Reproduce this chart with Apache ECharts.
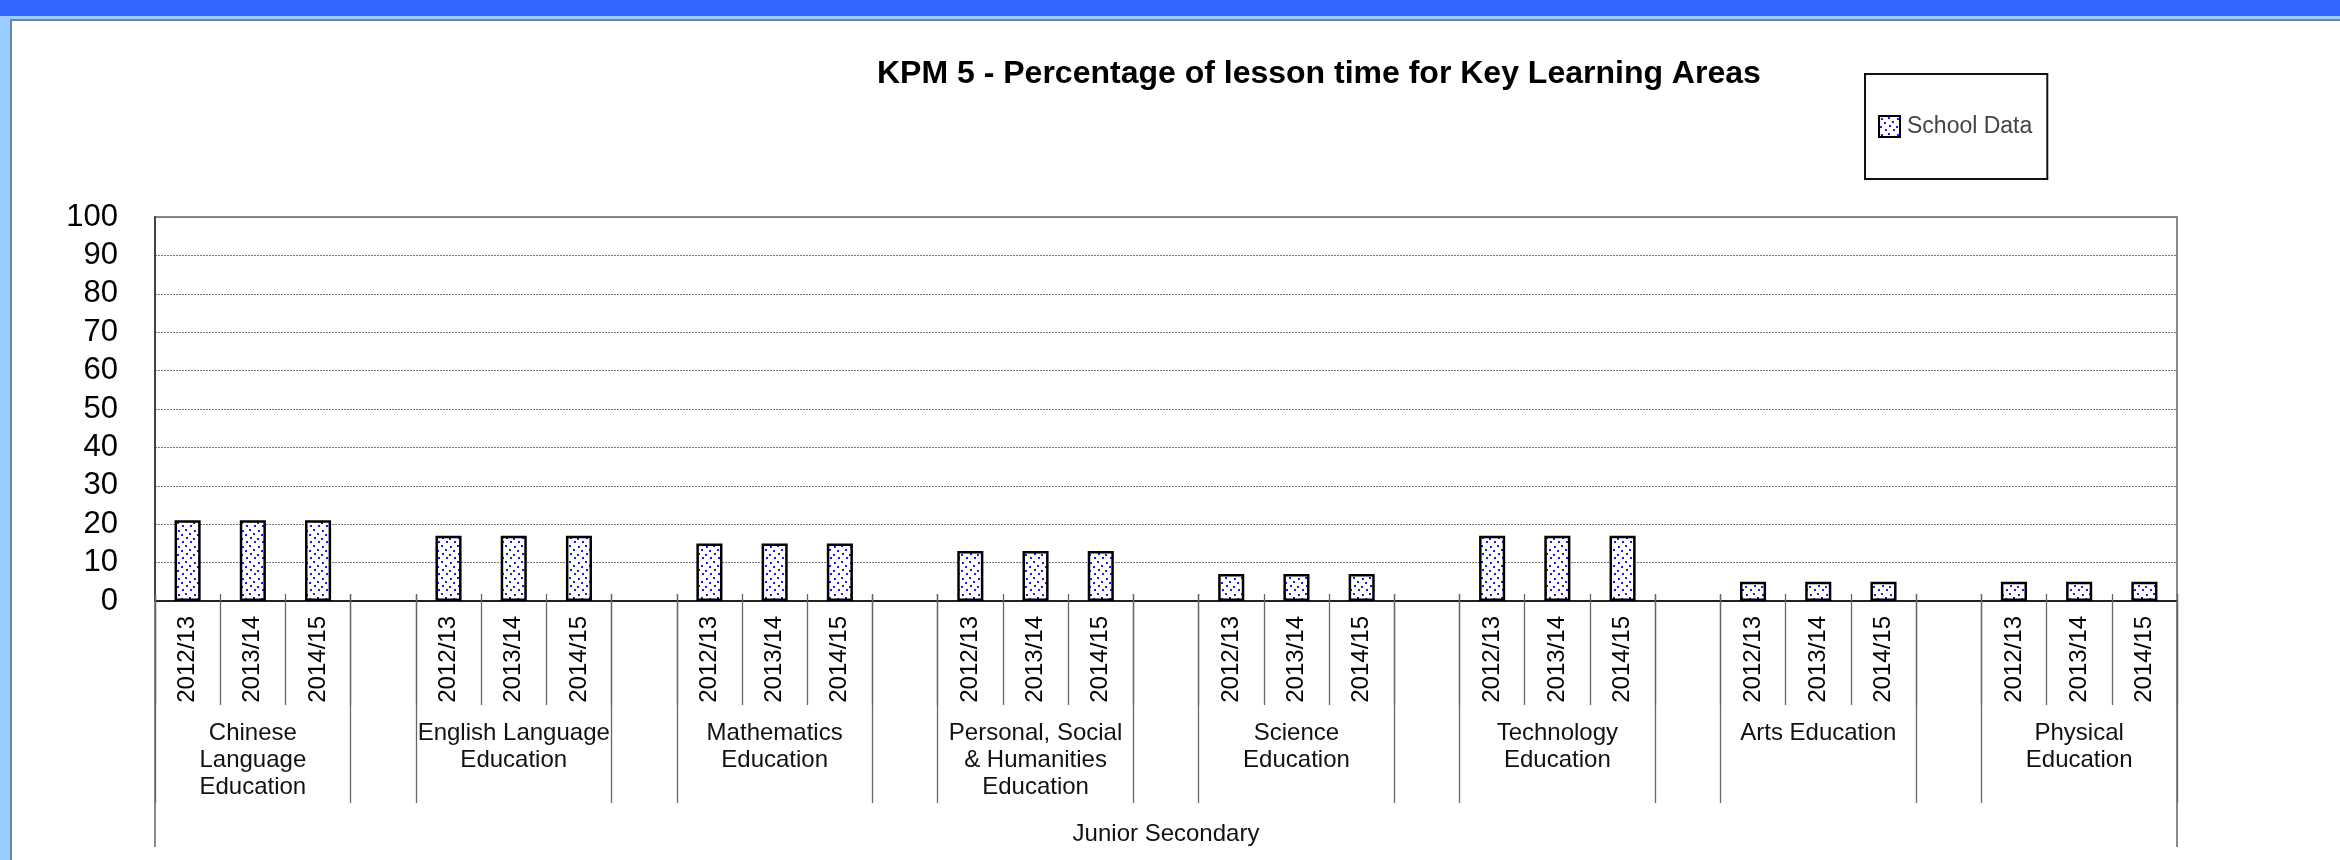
<!DOCTYPE html>
<html>
<head>
<meta charset="utf-8">
<script src="https://cdn.jsdelivr.net/npm/echarts@6/dist/echarts.min.js"></script>
<style>
  html, body { margin: 0; padding: 0; width: 2340px; height: 860px; overflow: hidden; background: #ffffff; }
  .band-blue { position: absolute; left: 0; top: 0; width: 2340px; height: 16px; background: #3366ff; }
  .band-light { position: absolute; left: 0; top: 16px; width: 2340px; height: 3px; background: #99ccff; }
  .strip-left { position: absolute; left: 0; top: 16px; width: 10px; height: 844px; background: #99ccff; }
  .line-top { position: absolute; left: 10px; top: 19px; width: 2330px; height: 2px; background: #6a86a3; }
  .line-left { position: absolute; left: 10px; top: 19px; width: 2px; height: 841px; background: #6a86a3; }
  #chart { position: absolute; left: 0; top: 0; width: 2340px; height: 860px; }
</style>
</head>
<body>
<div class="band-blue"></div>
<div class="band-light"></div>
<div class="strip-left"></div>
<div class="line-top"></div>
<div class="line-left"></div>
<div id="chart"></div>
<script>
// ---------------- data ----------------
const titleText = 'KPM 5 - Percentage of lesson time for Key Learning Areas';
const seriesName = 'School Data';
const levelLabel = 'Junior Secondary';
const years = ['2012/13', '2013/14', '2014/15'];
const groupNames = [
  'Chinese\nLanguage\nEducation',
  'English Language\nEducation',
  'Mathematics\nEducation',
  'Personal, Social\n& Humanities\nEducation',
  'Science\nEducation',
  'Technology\nEducation',
  'Arts Education',
  'Physical\nEducation'
];
const chineseLang = [21, 21, 21];
const englishLang = [17, 17, 17];
const mathematics = [15, 15, 15];
const personalSocial = [13, 13, 13];
const science = [7, 7, 7];
const technology = [17, 17, 17];
const arts = [5, 5, 5];
const physical = [5, 5, 5];
const groupValues = [chineseLang, englishLang, mathematics, personalSocial, science, technology, arts, physical];
const yMin = 0, yMax = 100, yInterval = 10;

// -------- build slot arrays (3 years per group + 1 empty gap slot between groups) --------
const yearSlots = [];
const groupSlots = [];
const valueSlots = [];
groupValues.forEach((vals, g) => {
  years.forEach((y, i) => {
    yearSlots.push(y);
    groupSlots.push(i === 1 ? groupNames[g] : '');
    valueSlots.push(vals[i]);
  });
  if (g < groupValues.length - 1) {
    yearSlots.push('');
    groupSlots.push('');
    valueSlots.push('-');
  }
});

// -------- stipple pattern --------
function makeStipple() {
  const c = document.createElement('canvas');
  c.width = 16; c.height = 16;
  const ctx = c.getContext('2d');
  ctx.fillStyle = '#ffffff';
  ctx.fillRect(0, 0, 16, 16);
  ctx.fillStyle = '#1a1aff';
  const pts = [[2,2],[9,1],[13,5],[5,6],[10,9],[1,10],[6,13],[14,13]];
  pts.forEach(p => ctx.fillRect(p[0], p[1], 2, 2));
  return c;
}
const stipple = { image: makeStipple(), repeat: 'repeat' };

const FONT = 'Liberation Sans, Arial, Helvetica, sans-serif';
const gridBox = { left: 155, right: 163, top: 217, bottom: 259 };
const lineGray = '#666666';

const chart = echarts.init(document.getElementById('chart'), null, { renderer: 'canvas' });
chart.setOption({
  animation: false,
  backgroundColor: 'transparent',
  title: {
    text: titleText,
    left: 872,
    top: 53,
    textStyle: { fontFamily: FONT, fontSize: 32, fontWeight: 'bold', color: '#000' }
  },
  legend: {
    data: [seriesName],
    left: 1865,
    top: 74,
    orient: 'vertical',
    icon: 'rect',
    itemWidth: 21,
    itemHeight: 21,
    itemGap: 0,
    padding: [41, 15, 41, 13],
    borderColor: '#111',
    borderWidth: 2,
    backgroundColor: '#fff',
    textStyle: { fontFamily: FONT, fontSize: 23, color: '#444', padding: [0, 0, 0, 2] }
  },
  grid: Object.assign({ show: true, borderColor: '#8a8a8a', borderWidth: 2, backgroundColor: 'transparent' }, gridBox),
  xAxis: [
    { // main axis with year labels
      type: 'category', position: 'bottom', data: yearSlots,
      axisLine: { show: true, lineStyle: { color: '#222', width: 2 } },
      axisTick: { show: false },
      axisLabel: { interval: 0, rotate: 90, margin: 15, fontFamily: FONT, fontSize: 24, color: '#000' },
      splitLine: { show: false }
    },
    { // short separators (start slightly above the baseline)
      type: 'category', position: 'bottom', data: yearSlots, offset: -7,
      axisLine: { show: false },
      axisTick: { show: true, interval: 0, length: 111, lineStyle: { color: lineGray, width: 1.3 } },
      axisLabel: { show: false }
    },
    { // longer group separators + group names
      type: 'category', position: 'bottom', data: groupSlots, offset: -7,
      axisLine: { show: false },
      axisTick: {
        show: true, length: 209,
        interval: function (i) { return i % 4 === 0 || i % 4 === 3; },
        lineStyle: { color: lineGray, width: 1.3 }
      },
      axisLabel: {
        interval: 0, margin: 126, fontFamily: FONT, fontSize: 24, lineHeight: 27,
        color: '#111', align: 'center'
      }
    },
    { // level label spanning the whole axis
      type: 'category', position: 'bottom', data: [levelLabel],
      axisLine: { show: false },
      axisTick: { show: true, length: 246, lineStyle: { color: lineGray, width: 1.5 } },
      axisLabel: { interval: 0, margin: 220, fontFamily: FONT, fontSize: 24, lineHeight: 27, color: '#111' }
    }
  ],
  yAxis: {
    type: 'value', min: yMin, max: yMax, interval: yInterval,
    axisLine: { show: true, lineStyle: { color: '#444', width: 2 } },
    axisTick: { show: false },
    axisLabel: { margin: 37, fontFamily: FONT, fontSize: 31, color: '#000' },
    splitLine: { show: true, lineStyle: { color: '#7a7a7a', width: 1, type: [2, 1] } }
  },
  series: [{
    name: seriesName,
    type: 'bar',
    xAxisIndex: 0,
    data: valueSlots,
    barWidth: '40%',
    itemStyle: { color: stipple, borderColor: '#000', borderWidth: 2.5 }
  }]
});
</script>
</body>
</html>
